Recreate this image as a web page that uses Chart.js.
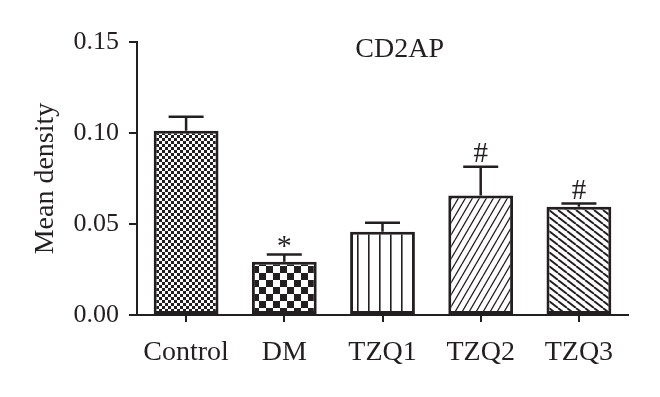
<!DOCTYPE html>
<html>
<head>
<meta charset="utf-8">
<script src="https://cdn.jsdelivr.net/npm/chart.js@4/dist/chart.umd.min.js"></script>
<style>
  html, body { margin: 0; padding: 0; background: #fff; }
  #wrap { width: 660px; height: 397px; position: relative; }
</style>
</head>
<body>
<div id="wrap"><canvas id="cd2apChart"></canvas></div>
<script>
// Data
const groups = ['Control', 'DM', 'TZQ1', 'TZQ2', 'TZQ3'];
const meanDensity = [0.1012, 0.0293, 0.0458, 0.0656, 0.0595];
const errUpper = [0.0077, 0.0039, 0.0049, 0.0159, 0.0017];
const marks = ['', '*', '', '#', '#'];
const yTicks = [0, 0.05, 0.10, 0.15];

const INK = '#231f20';
const SERIF = "'Liberation Serif', 'DejaVu Serif', serif";

// ============================================
// Fill patterns
// ============================================
function tile(w, h, draw) {
    const c = document.createElement('canvas');
    c.width = w;
    c.height = h;
    const g = c.getContext('2d');
    g.fillStyle = '#fff';
    g.fillRect(0, 0, w, h);
    g.fillStyle = INK;
    g.strokeStyle = INK;
    draw(g, w, h);
    return g.createPattern(c, 'repeat');
}

function checker(size) {
    return tile(size * 2, size * 2, g => {
        g.fillRect(0, 0, size, size);
        g.fillRect(size, size, size, size);
    });
}

const patterns = [
    checker(3),
    checker(7),
    tile(11, 4, g => { g.fillRect(5, 0, 1.6, 4); }),
    tile(7, 12, (g, w, h) => {
        g.lineWidth = 1.3;
        g.beginPath();
        [-w, 0, w].forEach(dx => { g.moveTo(dx, h); g.lineTo(dx + w, 0); });
        g.stroke();
    }),
    tile(9, 7, (g, w, h) => {
        g.lineWidth = 1.9;
        g.beginPath();
        [-w, 0, w].forEach(dx => { g.moveTo(dx, 0); g.lineTo(dx + w, h); });
        g.stroke();
    })
];

// ============================================
// Error bars, significance marks and panel label
// ============================================
const errorBarPlugin = {
    id: 'errorBars',
    afterDatasetsDraw(chart) {
        const { ctx, scales: { y } } = chart;
        const bars = chart.getDatasetMeta(0).data;
        ctx.save();
        ctx.strokeStyle = INK;
        ctx.lineWidth = 2.5;
        ctx.fillStyle = INK;
        bars.forEach((bar, i) => {
            const top = y.getPixelForValue(meanDensity[i] + errUpper[i]);
            const half = bar.width * 0.27;
            ctx.beginPath();
            ctx.moveTo(bar.x, bar.y);
            ctx.lineTo(bar.x, top);
            ctx.moveTo(bar.x - half, top);
            ctx.lineTo(bar.x + half, top);
            ctx.stroke();

            if (marks[i]) {
                const star = marks[i] === '*';
                ctx.font = `${star ? 30 : 29}px ${SERIF}`;
                ctx.textAlign = 'center';
                ctx.textBaseline = 'alphabetic';
                ctx.fillText(marks[i], bar.x, top - (star ? 0 : 5));
            }
        });

        const area = chart.chartArea;
        ctx.font = `28px ${SERIF}`;
        ctx.textAlign = 'center';
        ctx.textBaseline = 'alphabetic';
        ctx.fillText('CD2AP', area.left + area.width * 0.535, area.top + 15);
        ctx.restore();
    }
};

const ctx = document.getElementById('cd2apChart').getContext('2d');
new Chart(ctx, {
    type: 'bar',
    data: {
        labels: groups,
        datasets: [{
            data: meanDensity,
            backgroundColor: patterns,
            borderColor: INK,
            borderWidth: 3,
            borderSkipped: false,
            categoryPercentage: 1,
            barPercentage: 0.66
        }]
    },
    options: {
        responsive: true,
        maintainAspectRatio: false,
        animation: false,
        layout: { padding: { left: 29, right: 32, top: 42, bottom: 0 } },
        plugins: {
            legend: { display: false },
            tooltip: { enabled: false }
        },
        scales: {
            x: {
                afterFit: s => { s.height = 82; },
                grid: {
                    offset: false,
                    drawOnChartArea: false,
                    drawTicks: true,
                    tickLength: 7,
                    color: INK,
                    lineWidth: 2
                },
                border: { color: INK, width: 2 },
                ticks: {
                    color: INK,
                    padding: 14,
                    font: { family: SERIF, size: 28 }
                }
            },
            y: {
                min: 0,
                max: 0.15,
                afterFit: s => { s.width = 108; },
                afterBuildTicks: s => { s.ticks = yTicks.map(v => ({ value: v })); },
                grid: {
                    drawOnChartArea: false,
                    drawTicks: true,
                    tickLength: 8,
                    color: INK,
                    lineWidth: 2
                },
                border: { color: INK, width: 2 },
                ticks: {
                    color: INK,
                    padding: 10,
                    font: { family: SERIF, size: 26 },
                    callback: v => v.toFixed(2)
                },
                title: {
                    display: true,
                    text: 'Mean density',
                    color: INK,
                    padding: 0,
                    font: { family: SERIF, size: 28 }
                }
            }
        }
    },
    plugins: [errorBarPlugin]
});
</script>
</body>
</html>
